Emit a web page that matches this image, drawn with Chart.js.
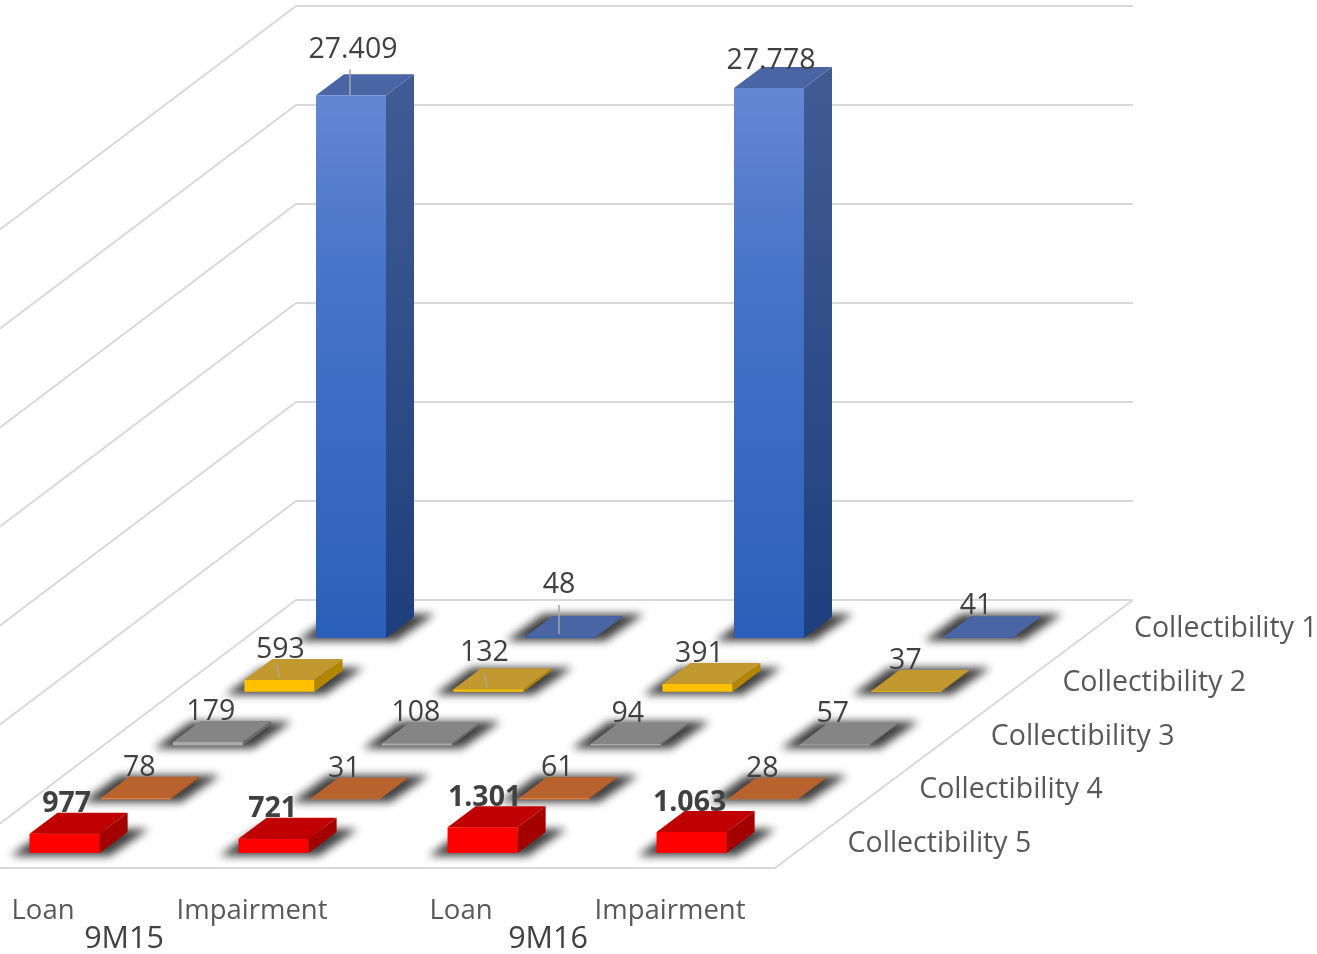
<!DOCTYPE html>
<html>
<head>
<meta charset="utf-8">
<title>Collectibility</title>
<script src="https://cdn.jsdelivr.net/npm/chart.js@4"></script>
<style>
  html, body { margin: 0; padding: 0; background: #fff; overflow: hidden; }
  canvas { display: block; }
</style>
</head>
<body>
<canvas id="collectChart" width="1317" height="954"></canvas>
<script>
// ---- Data ----
const categories = ['Loan', 'Impairment', 'Loan', 'Impairment'];
const periods = ['9M15', '9M16'];
const rowNames = ['Collectibility 1', 'Collectibility 2', 'Collectibility 3', 'Collectibility 4', 'Collectibility 5'];

const collectibility1 = [27409, 48, 27778, 41];
const collectibility2 = [593, 132, 391, 37];
const collectibility3 = [179, 108, 94, 57];
const collectibility4 = [78, 31, 61, 28];
const collectibility5 = [977, 721, 1301, 1063];

const rowValues = [collectibility1, collectibility2, collectibility3, collectibility4, collectibility5];

// ---- Look of the floor rows ----
const ROW_DX = -71.6;
const ROW_DY = 53.75;
const DEPTH_DX = 28;
const DEPTH_DY = -21;
const WALL_LIFT = 38;
const GRID = '#d9d9d9';

const rowColors = [
  { top: '#4a65a3', side: '#3f5b93', sideEnd: '#1e3f7d' },
  { front: '#ffc000', top: '#c2992f', side: '#b38600' },
  { front: '#a9a9a9', top: '#858585', side: '#6b6b6b' },
  { front: '#ed7d31', top: '#b8622d', side: '#9a5022' },
  { front: '#ff0000', top: '#c00000', side: '#a50000' }
];

// label nudges from the top centre of each bar, [dx, dy] per category
const labelNudges = [
  [[2, -47], [-1, -54], [2, -29], [-2, -33]],
  [[1, -32], [-4, -38], [2, -32], [-1, -32]],
  [[3, -32], [-1, -32], [2, -32], [-2, -32]],
  [[3, -32], [-1, -32], [3, -32], [-1, -32]],
  [[2, -32], [-1, -32], [2, -31], [-2, -31]]
];

// thin leader lines: row, category, then start and end relative to the bar top centre
const leaders = [
  [0, 0, -1, -26, -1, 0],
  [0, 1, -1, -32, -1, -3],
  [1, 0, -3, -15, 0, -3],
  [1, 1, -4, -15, -1, -2]
];

const fmt = v => String(v).replace(/\B(?=(\d{3})+$)/g, '.');

function poly(ctx, pts) {
  ctx.beginPath();
  pts.forEach((p, i) => i ? ctx.lineTo(p[0], p[1]) : ctx.moveTo(p[0], p[1]));
  ctx.closePath();
}

function rowIndexOf(chart, datasetIndex) {
  return rowNames.indexOf(chart.data.datasets[datasetIndex].label);
}

// Floor, back wall and rule lines come from the value scale
const floorPlugin = {
  id: 'floor',
  beforeDatasetsDraw(chart) {
    const { ctx, scales: { y } } = chart;
    const right = 1133;
    const corner = 296;
    ctx.save();
    ctx.strokeStyle = GRID;
    ctx.lineWidth = 2;
    y.ticks.forEach(t => {
      const py = y.getPixelForValue(t.value) - WALL_LIFT;
      ctx.beginPath();
      ctx.moveTo(-4, py + (corner + 4) * 0.755);
      ctx.lineTo(corner, py);
      ctx.lineTo(right, py);
      ctx.stroke();
    });
    const floorY = y.getPixelForValue(0) - WALL_LIFT;
    ctx.beginPath();
    ctx.moveTo(right, floorY);
    ctx.lineTo(775, 868);
    ctx.lineTo(-4, 868);
    ctx.stroke();
    ctx.restore();
  }
};

// Each row is shifted across the floor, then gets its shadow, side and top faces
const boxPlugin = {
  id: 'box',
  beforeDatasetDraw(chart, args) {
    const { ctx } = chart;
    const r = rowIndexOf(chart, args.index);
    const colors = rowColors[r];
    ctx.save();
    ctx.translate(ROW_DX * r, ROW_DY * r);

    args.meta.data.forEach(bar => {
      const { x, y, base, width } = bar.getProps(['x', 'y', 'base', 'width'], true);
      const l = x - width / 2;
      const rr = x + width / 2;

      ctx.save();
      ctx.filter = 'blur(4.5px)';
      ctx.fillStyle = '#404040';
      poly(ctx, [
        [l - 19, base + 3],
        [rr + 10, base + 3],
        [rr + DEPTH_DX + 21, base + DEPTH_DY - 3],
        [l + DEPTH_DX - 10, base + DEPTH_DY - 3]
      ]);
      ctx.fill();
      ctx.restore();

      let sideFill = colors.side;
      if (colors.sideEnd) {
        sideFill = ctx.createLinearGradient(0, y, 0, base);
        sideFill.addColorStop(0, colors.side);
        sideFill.addColorStop(1, colors.sideEnd);
      }
      ctx.fillStyle = sideFill;
      poly(ctx, [[rr, y], [rr + DEPTH_DX, y + DEPTH_DY], [rr + DEPTH_DX, base + DEPTH_DY], [rr, base]]);
      ctx.fill();

      ctx.fillStyle = colors.top;
      poly(ctx, [[l, y], [rr, y], [rr + DEPTH_DX, y + DEPTH_DY], [l + DEPTH_DX, y + DEPTH_DY]]);
      ctx.fill();
    });
  },
  afterDatasetDraw(chart) {
    chart.ctx.restore();
  }
};

// Value labels, leader lines, depth labels and the period names
const textPlugin = {
  id: 'texts',
  afterDatasetsDraw(chart) {
    const { ctx, scales: { x } } = chart;
    ctx.save();

    chart.data.datasets.forEach((ds, di) => {
      const r = rowIndexOf(chart, di);
      const meta = chart.getDatasetMeta(di);
      ds.data.forEach((v, c) => {
        const bar = meta.data[c];
        const cx = bar.x + ROW_DX * r;
        const cy = bar.y + ROW_DY * r;
        leaders.filter(l => l[0] === r && l[1] === c).forEach(l => {
          ctx.strokeStyle = '#a6a6a6';
          ctx.lineWidth = 1.5;
          ctx.beginPath();
          ctx.moveTo(cx + l[2], cy + l[3]);
          ctx.lineTo(cx + l[4], cy + l[5]);
          ctx.stroke();
        });
      });
    });

    ctx.textAlign = 'center';
    ctx.textBaseline = 'middle';
    chart.data.datasets.forEach((ds, di) => {
      const r = rowIndexOf(chart, di);
      const meta = chart.getDatasetMeta(di);
      ctx.fillStyle = '#404040';
      ctx.font = (r === 4 ? 'bold ' : '') + '28.5px "Open Sans"';
      ds.data.forEach((v, c) => {
        const bar = meta.data[c];
        const n = labelNudges[r][c];
        ctx.fillText(fmt(v), bar.x + ROW_DX * r + n[0], bar.y + ROW_DY * r + n[1] + 2);
      });
    });

    ctx.textAlign = 'left';
    ctx.fillStyle = '#595959';
    ctx.font = '28.5px "Open Sans"';
    rowNames.forEach((name, r) => {
      ctx.fillText(name, chart.chartArea.right + 51.5 + ROW_DX * r, 629 + ROW_DY * r);
    });

    ctx.textAlign = 'center';
    ctx.fillStyle = '#404040';
    ctx.font = '30.5px "Open Sans"';
    const periodNudge = [-331.5, -325.5];
    periods.forEach((p, i) => {
      const mid = (x.getPixelForValue(i * 2) + x.getPixelForValue(i * 2 + 1)) / 2;
      ctx.fillText(p, mid + periodNudge[i], 939);
    });
    ctx.restore();
  }
};

const frontFill = color => context => {
  if (color) return color;
  const area = context.chart.chartArea;
  if (!area) return '#3f6cc4';
  const g = context.chart.ctx.createLinearGradient(0, area.top + 50, 0, area.bottom);
  g.addColorStop(0, '#6487d2');
  g.addColorStop(0.35, '#4673c9');
  g.addColorStop(1, '#2b60ba');
  return g;
};

new Chart(document.getElementById('collectChart').getContext('2d'), {
  type: 'bar',
  data: {
    labels: categories,
    datasets: rowNames.map((name, i) => ({
      label: name,
      data: rowValues[i],
      order: rowNames.length - i,
      grouped: false,
      clip: false,
      barPercentage: 0.335,
      categoryPercentage: 1,
      backgroundColor: frontFill(rowColors[i].front)
    }))
  },
  options: {
    responsive: false,
    animation: false,
    layout: { padding: { left: 246.5, right: 234.5, top: 44, bottom: 0 } },
    plugins: { legend: { display: false }, tooltip: { enabled: false } },
    scales: {
      x: {
        grid: { display: false },
        border: { display: false },
        afterFit(scale) {
          scale.height = 316;
          scale.paddingLeft = 0;
          scale.paddingRight = 0;
        },
        ticks: {
          autoSkip: false,
          minRotation: 0,
          maxRotation: 0,
          padding: 249,
          labelOffset: -308,
          color: '#595959',
          font: { family: 'Open Sans', size: 27.5 }
        }
      },
      y: {
        display: false,
        min: 0,
        max: 30000,
        ticks: { stepSize: 5000 }
      }
    }
  },
  plugins: [floorPlugin, boxPlugin, textPlugin]
});
</script>
</body>
</html>
